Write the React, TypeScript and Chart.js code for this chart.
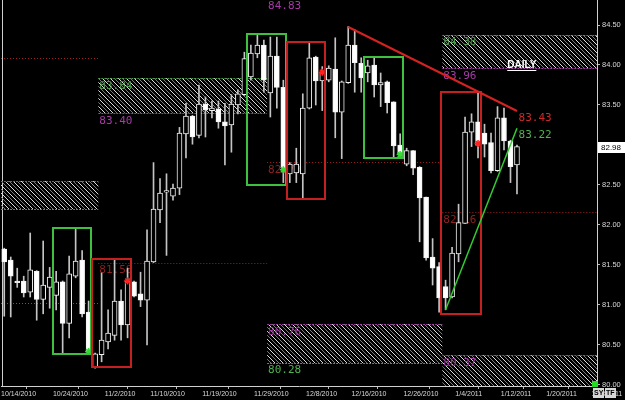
import React, { useEffect, useRef } from 'react';
import { Chart, registerables } from 'chart.js';
Chart.register(...registerables);

// ---- candle data (daily) ----
const opens = [81.70,81.56,81.30,81.30,81.16,81.42,81.07,81.22,81.12,81.29,80.77,81.36,81.56,80.91,80.22,80.38,80.54,80.62,81.05,80.75,81.29,81.14,81.06,81.54,82.19,82.41,82.36,82.46,83.14,83.36,83.12,83.51,83.43,83.45,83.29,83.25,83.50,83.63,83.85,84.14,84.25,83.65,84.11,83.72,82.64,82.65,82.64,83.46,84.10,83.80,83.81,83.95,83.41,83.78,84.25,84.02,83.90,84.00,83.75,83.79,83.54,83.00,82.76,82.93,82.72,82.35,81.60,81.48,81.23,81.10,81.64,82.02,83.16,83.29,83.15,83.03,82.68,83.34,83.05,82.75];
const highs = [81.71,81.60,81.46,81.36,81.90,81.43,81.80,81.47,81.42,81.30,81.61,81.95,81.68,81.05,80.40,81.40,80.94,81.56,81.19,81.46,81.30,81.41,81.94,82.78,82.58,82.64,82.51,83.22,83.52,83.37,83.75,83.60,83.55,83.55,83.52,83.63,83.69,84.16,84.25,84.38,84.31,84.35,84.35,83.81,82.78,82.96,83.64,84.28,84.11,83.98,83.99,84.34,83.80,84.48,84.44,84.09,84.06,84.09,83.90,83.80,83.54,83.14,82.96,82.93,82.73,82.35,81.83,81.53,81.31,81.72,82.26,83.35,83.39,83.65,83.26,83.15,83.48,83.46,83.06,83.00];
const lows = [80.86,80.85,81.22,81.10,81.10,80.81,80.89,80.96,80.94,80.40,80.59,81.34,80.85,80.40,80.21,80.29,80.45,80.56,80.56,80.59,81.10,80.98,80.50,81.53,82.03,81.62,82.31,82.38,82.84,83.01,83.09,83.10,83.34,83.21,82.75,82.91,83.39,83.62,83.81,84.09,83.66,83.35,83.46,82.53,82.53,82.53,82.34,83.45,83.50,83.43,83.79,83.09,82.83,83.77,83.66,83.66,83.79,83.60,83.48,83.40,82.84,82.86,82.74,82.63,81.79,81.56,81.25,80.91,80.94,81.09,81.54,82.02,82.98,82.84,82.85,82.65,82.67,82.94,82.53,82.39];
const closes = [81.54,81.36,81.28,81.15,81.44,81.07,81.25,81.35,81.29,80.77,81.39,81.55,80.89,80.41,80.39,80.56,80.65,81.05,80.75,81.30,81.11,81.06,81.55,82.20,82.40,82.43,82.46,83.15,83.36,83.10,83.51,83.44,83.46,83.29,83.24,83.51,83.64,84.08,84.15,84.25,83.81,84.11,83.72,82.71,82.76,82.76,83.46,84.09,83.80,83.91,83.96,83.41,83.79,84.25,84.03,83.84,83.99,83.75,83.78,83.53,82.99,82.88,82.93,82.71,82.34,81.59,81.46,81.09,81.09,81.65,82.03,83.16,83.29,83.00,83.01,82.68,83.34,83.05,82.73,82.98];

// ---- axes ----
const tickIdx = [0, 8, 16, 23, 31, 39, 47, 54, 62, 70, 77, 84, 91];
const tickLabels = ['10/14/2010','10/24/2010','11/2/2010','11/10/2010','11/19/2010','11/29/2010','12/8/2010','12/16/2010','12/26/2010','1/4/2011','1/12/2011','1/20/2011','1/28/2011'];
const yTicks = [80, 80.5, 81, 81.5, 82, 82.5, 83, 83.5, 84, 84.5];
const xMin = -0.5, xMax = 91.33, yMin = 79.9875, yMax = 84.8125;
const lastPrice = 82.98;

// ---- hatched zones ----
const zoneStart = [-0.5, 14.5, 40.5, 67.5, 67.5];
const zoneEnd = [14.5, 40.5, 67.5, 91.33, 91.33];
const zoneTop = [82.55, 83.84, 80.76, 84.38, 80.37];
const zoneBottom = [82.20, 83.40, 80.28, 83.96, 79.98];
const zoneTopColor = ['#a040a0', '#4a9a4a', '#a040a0', '#4a9a4a', '#a040a0'];
const zoneBottomColor = ['#4a9a4a', '#a040a0', '#4a9a4a', '#a040a0', ''];

// ---- dotted levels ----
const levelPrice = [84.09, 81.03, 81.53, 82.79, 82.16];
const levelStart = [-0.5, -0.5, 14.5, 40.5, 67.5];
const levelEnd = [14.5, 14.5, 40.5, 67.5, 91.33];
const levelColor = ['#a02020', '#903c90', '#a02020', '#a02020', '#a02020'];

// ---- level labels ----
const labelText = ['84.83','83.84','83.40','81.58','82.79','80.76','80.28','84.38','83.96','82.16','80.37','83.43','83.22'];
const labelPrice = [84.83, 83.84, 83.40, 81.53, 82.79, 80.76, 80.28, 84.38, 83.96, 82.16, 80.37, 83.43, 83.22];
const labelIdx = [40.5, 14.5, 14.5, 14.5, 40.5, 40.5, 40.5, 67.5, 67.5, 67.5, 67.5, 79.1, 79.1];
const labelColor = ['#a53ca5','#4a9a4a','#a53ca5','#8c2222','#8c2222','#a53ca5','#52b052','#4a9a4a','#a53ca5','#8c2222','#a53ca5','#cc2a2a','#52b052'];

// ---- boxes ----
const boxStart = [7.5, 13.5, 37.4, 43.5, 55.4, 67.3];
const boxEnd = [13.4, 19.5, 43.4, 49.4, 61.4, 73.4];
const boxTop = [81.96, 81.58, 84.39, 84.29, 84.10, 83.66];
const boxBottom = [80.39, 80.22, 82.50, 82.32, 82.84, 80.89];
const boxColor = ['#3fbf3f', '#c42020', '#3fbf3f', '#c42020', '#3fbf3f', '#c42020'];

// ---- trend lines ----
const trendStartIdx = [53, 68];
const trendStartPrice = [84.475, 80.94];
const trendEndIdx = [79, 79];
const trendEndPrice = [83.425, 83.21];
const trendColor = ['#d42222', '#33cc33'];
const trendWidth = [2, 1.5];

// ---- signal stars ----
const starIdx = [19, 49, 73, 13, 61, 43];
const starPrice = [81.30, 83.91, 83.02, 80.42, 82.88, 82.69];
const starColor = ['#ff2020', '#ff2020', '#ff2020', '#33dd33', '#33dd33', '#33dd33'];

function makePattern(ctx: CanvasRenderingContext2D) {
  const tile = document.createElement('canvas');
  tile.width = 8; tile.height = 8;
  const t = tile.getContext('2d')!;
  for (let k = 0; k < 8; k++) {
    t.fillStyle = '#dcdcdc'; t.fillRect(k, k, 1, 1);
    t.fillStyle = '#7a7a7a'; t.fillRect((k + 4) % 8, k, 1, 1);
  }
  return ctx.createPattern(tile, 'repeat')!;
}

const overlay = {
  id: 'overlay',
  beforeDatasetsDraw(chart: any) {
    const { ctx, chartArea: a, scales } = chart;
    const x = scales.x, y = scales.y;
    ctx.save();
    // left frame line
    ctx.strokeStyle = '#cfcfcf'; ctx.lineWidth = 1;
    ctx.beginPath(); ctx.moveTo(a.left + 1.5, a.top); ctx.lineTo(a.left + 1.5, a.bottom); ctx.stroke();
    const pat = makePattern(ctx);
    for (let i = 0; i < zoneStart.length; i++) {
      const x1 = Math.max(a.left, x.getPixelForValue(zoneStart[i]));
      const x2 = Math.min(a.right, x.getPixelForValue(zoneEnd[i]));
      const y1 = Math.round(y.getPixelForValue(zoneTop[i]));
      const y2 = Math.min(a.bottom, Math.round(y.getPixelForValue(zoneBottom[i])));
      ctx.fillStyle = pat;
      ctx.fillRect(x1, y1, x2 - x1, y2 - y1);
      ctx.setLineDash([2, 1]);
      ctx.lineWidth = 1;
      ctx.strokeStyle = zoneTopColor[i];
      ctx.beginPath(); ctx.moveTo(x1, y1 + 0.5); ctx.lineTo(x2, y1 + 0.5); ctx.stroke();
      if (zoneBottomColor[i]) {
        ctx.strokeStyle = zoneBottomColor[i];
        ctx.beginPath(); ctx.moveTo(x1, y2 + 0.5); ctx.lineTo(x2, y2 + 0.5); ctx.stroke();
      }
    }
    ctx.setLineDash([1, 2]);
    for (let i = 0; i < levelPrice.length; i++) {
      const yy = Math.round(y.getPixelForValue(levelPrice[i])) + 0.5;
      ctx.strokeStyle = levelColor[i];
      ctx.beginPath();
      ctx.moveTo(Math.max(a.left, x.getPixelForValue(levelStart[i])), yy);
      ctx.lineTo(Math.min(a.right, x.getPixelForValue(levelEnd[i])), yy);
      ctx.stroke();
    }
    ctx.setLineDash([]);
    ctx.font = '11px "DejaVu Sans Mono"';
    ctx.textBaseline = 'middle';
    ctx.textAlign = 'left';
    for (let i = 0; i < labelText.length; i++) {
      ctx.fillStyle = labelColor[i];
      ctx.fillText(labelText[i], x.getPixelForValue(labelIdx[i]) + 1, y.getPixelForValue(labelPrice[i]) + 8);
    }
    ctx.restore();
  },
  afterDatasetsDraw(chart: any) {
    const { ctx, scales } = chart;
    const x = scales.x, y = scales.y;
    ctx.save();
    ctx.lineWidth = 2;
    for (let i = 0; i < boxStart.length; i++) {
      const x1 = Math.round(x.getPixelForValue(boxStart[i]));
      const x2 = Math.round(x.getPixelForValue(boxEnd[i]));
      const y1 = Math.round(y.getPixelForValue(boxTop[i]));
      const y2 = Math.round(y.getPixelForValue(boxBottom[i]));
      ctx.strokeStyle = boxColor[i];
      ctx.strokeRect(x1, y1, x2 - x1, y2 - y1);
    }
    for (let i = 0; i < trendStartIdx.length; i++) {
      ctx.strokeStyle = trendColor[i];
      ctx.lineWidth = trendWidth[i];
      ctx.beginPath();
      ctx.moveTo(x.getPixelForValue(trendStartIdx[i]), y.getPixelForValue(trendStartPrice[i]));
      ctx.lineTo(x.getPixelForValue(trendEndIdx[i]), y.getPixelForValue(trendEndPrice[i]));
      ctx.stroke();
    }
    // DAILY caption
    const dx = x.getPixelForValue(77.5);
    const dy = y.getPixelForValue(84.0);
    ctx.font = 'bold 10px "Liberation Sans"';
    ctx.fillStyle = '#ffffff';
    ctx.textBaseline = 'middle';
    ctx.textAlign = 'left';
    ctx.fillText('DAILY', dx, dy);
    const w = ctx.measureText('DAILY').width;
    ctx.fillRect(dx, dy + 5, w, 1);
    ctx.restore();
  },
  afterDraw(chart: any) {
    const { ctx, chartArea: a, scales } = chart;
    const y = scales.y;
    ctx.save();
    // current price box
    const py = Math.round(y.getPixelForValue(lastPrice));
    ctx.fillStyle = '#ffffff';
    ctx.fillRect(a.right + 1, py - 5, 27, 11);
    ctx.fillStyle = '#000000';
    ctx.font = '8px "Liberation Sans"';
    ctx.textBaseline = 'middle';
    ctx.textAlign = 'left';
    ctx.fillText(lastPrice.toFixed(2), a.right + 4, py + 0.5);
    // corner buttons
    const by = a.bottom + 2;
    ctx.fillStyle = '#22dd22';
    ctx.fillRect(a.right - 5, a.bottom - 5, 6, 6);
    ctx.fillStyle = '#d8d8d8';
    ctx.fillRect(a.right - 4, by, 11, 10);
    ctx.fillRect(a.right + 8, by, 11, 10);
    ctx.fillStyle = '#000';
    ctx.font = 'bold 7px "Liberation Sans"';
    ctx.fillText('SY', a.right - 3, by + 5);
    ctx.fillText('TF', a.right + 9, by + 5);
    ctx.restore();
  },
};

export default function App() {
  const ref = useRef<HTMLCanvasElement>(null);
  useEffect(() => {
    const ctx = ref.current!.getContext('2d')!;
    const bodies = opens.map((o, i) => {
      let c = closes[i];
      if (Math.abs(c - o) < 0.02) c = o + (c >= o ? 0.02 : -0.02);
      return { x: i, y: [o, c] };
    });
    const wicks = highs.map((h, i) => ({ x: i, y: [lows[i], h] }));
    const bodyColors = closes.map((c, i) => (c < opens[i] ? '#ffffff' : '#000000'));
    const stars = starIdx.map((s, i) => ({ x: s, y: starPrice[i] }));
    const chart = new Chart(ctx, {
      type: 'bar',
      data: {
        datasets: [
          {
            type: 'scatter', data: stars, order: 0,
            pointStyle: 'star', pointRadius: 3.5, pointBorderWidth: 1.5,
            pointBorderColor: starColor, pointBackgroundColor: starColor,
          } as any,
          {
            type: 'bar', data: bodies, order: 1, grouped: false,
            backgroundColor: bodyColors, borderColor: '#f2f2f2', borderWidth: 1,
            borderSkipped: false, barThickness: 5,
          } as any,
          {
            type: 'bar', data: wicks, order: 2, grouped: false,
            backgroundColor: '#c4c4c4', borderWidth: 0, barThickness: 1,
          } as any,
        ],
      },
      options: {
        responsive: false,
        maintainAspectRatio: false,
        animation: false,
        events: [],
        layout: { autoPadding: false, padding: { left: 1, right: 0, top: 0, bottom: 0 } },
        plugins: { legend: { display: false }, tooltip: { enabled: false } },
        scales: {
          x: {
            type: 'linear', min: xMin, max: xMax, offset: false,
            afterBuildTicks: (s: any) => { s.ticks = tickIdx.map((v) => ({ value: v - 0.5 })); },
            afterFit: (s: any) => { s.height = 14; s.paddingLeft = 0; s.paddingRight = 0; },
            ticks: {
              callback: (_v: any, i: number) => tickLabels[i],
              align: 'start', color: '#d8d8d8', padding: 1, maxRotation: 0, autoSkip: false,
              font: { size: 7, family: 'Liberation Sans' },
            },
            grid: { drawOnChartArea: false, color: '#bbbbbb', tickLength: 3 },
            border: { color: '#d0d0d0' },
          },
          y: {
            type: 'linear', position: 'right', min: yMin, max: yMax,
            afterBuildTicks: (s: any) => { s.ticks = yTicks.map((v) => ({ value: v })); },
            afterFit: (s: any) => { s.width = 28; s.paddingTop = 0; s.paddingBottom = 0; },
            ticks: {
              callback: (v: any) => Number(v).toFixed(2),
              color: '#d8d8d8', padding: 2, autoSkip: false,
              font: { size: 7.5, family: 'Liberation Sans' },
            },
            grid: { drawOnChartArea: false, color: '#bbbbbb', tickLength: 3 },
            border: { color: '#d0d0d0' },
          },
        },
      } as any,
      plugins: [overlay],
    });
    return () => chart.destroy();
  }, []);
  return (
    <div style={{ position: 'fixed', left: 0, top: 0, width: 625, height: 400, background: '#000' }}>
      <canvas ref={ref} width={625} height={400} style={{ display: 'block' }} />
    </div>
  );
}
